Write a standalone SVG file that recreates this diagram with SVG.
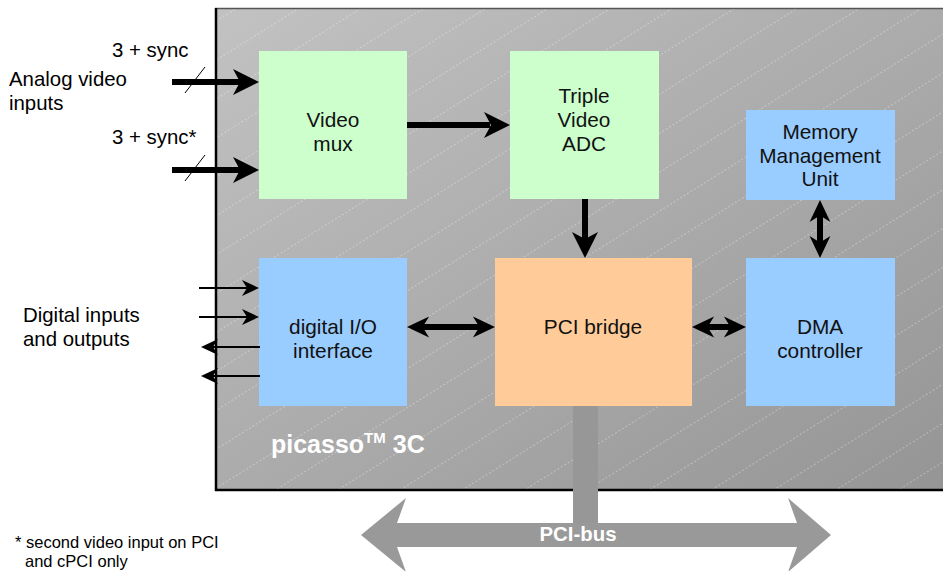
<svg xmlns="http://www.w3.org/2000/svg" width="943" height="571" viewBox="0 0 943 571">
  <style>
    .lbl { font-family: "Liberation Sans", Arial, sans-serif; font-size: 20.4px; fill: #000; }
    .box-text { font-family: "Liberation Sans", Arial, sans-serif; font-size: 20.8px; fill: #111; text-anchor: middle; }
    .note { font-family: "Liberation Sans", Arial, sans-serif; font-size: 16.5px; fill: #000; }
    .white-bold { font-family: "Liberation Sans", Arial, sans-serif; font-weight: bold; fill: #fff; }
    .green { fill: #ccffcc; }
    .blue { fill: #99ccff; }
    .orange { fill: #ffcc99; }
    .thick { stroke: #000; stroke-width: 6; fill: none; }
    .thin { stroke: #000; stroke-width: 2; fill: none; }
    .head { fill: #000; }
  </style>
  <defs>
    <linearGradient id="boardGrad" x1="0" y1="0" x2="1" y2="1">
      <stop offset="0" stop-color="#c2c2c2"/>
      <stop offset="1" stop-color="#959595"/>
    </linearGradient>
    <pattern id="hatch" patternUnits="userSpaceOnUse" width="12" height="33" patternTransform="rotate(-32)">
      <line x1="0" y1="0.5" x2="12" y2="0.5" stroke="#ffffff" stroke-opacity="0.4" stroke-width="0.8" stroke-dasharray="2 2"/>
    </pattern>
    <!-- arrowheads: barbed heads pointing right, tip at origin -->
    <path id="bigHead" d="M0,0 L-26,-13 L-19,0 L-26,13 Z"/>
    <path id="smallHead" d="M0,0 L-17,-8 L-12,0 L-17,8 Z"/>
  </defs>

  <!-- board -->
  <g id="board">
    <rect x="215" y="8" width="730" height="482" fill="url(#boardGrad)"/>
    <rect x="215" y="8" width="730" height="482" fill="url(#hatch)"/>
    <line x1="215" y1="8.5" x2="943" y2="8.5" stroke="#555" stroke-width="1.5"/>
    <line x1="216" y1="8" x2="216" y2="491" stroke="#000" stroke-width="2.5"/>
    <line x1="215" y1="490" x2="943" y2="490" stroke="#000" stroke-width="2.5"/>
    <text class="white-bold" x="271" y="453" font-size="25">picasso<tspan font-size="15" dy="-10">TM</tspan><tspan dy="10"> 3C</tspan></text>
  </g>

  <!-- PCI bus -->
  <g id="pci-bus">
    <rect x="573" y="406" width="25" height="120" fill="#979797"/>
    <path d="M361,535 L406,498 L397,523 L797,523 L788,498 L831,535 L788,572 L797,547 L397,547 L406,572 Z" fill="#999999"/>
    <text class="white-bold" x="578" y="541" font-size="20.4" text-anchor="middle">PCI-bus</text>
  </g>

  <!-- nodes -->
  <g id="video-mux">
    <rect class="green" x="259" y="51" width="148" height="148"/>
    <text class="box-text" x="333" y="127">Video</text>
    <text class="box-text" x="333" y="151">mux</text>
  </g>
  <g id="triple-video-adc">
    <rect class="green" x="510" y="51" width="149" height="148"/>
    <text class="box-text" x="584" y="103">Triple</text>
    <text class="box-text" x="584" y="127">Video</text>
    <text class="box-text" x="584" y="151">ADC</text>
  </g>
  <g id="memory-management-unit">
    <rect class="blue" x="746" y="110" width="149" height="90"/>
    <text class="box-text" x="820" y="139">Memory</text>
    <text class="box-text" x="820" y="163">Management</text>
    <text class="box-text" x="820" y="186">Unit</text>
  </g>
  <g id="digital-io-interface">
    <rect class="blue" x="259" y="258" width="148" height="148"/>
    <text class="box-text" x="333" y="334">digital I/O</text>
    <text class="box-text" x="333" y="358">interface</text>
  </g>
  <g id="pci-bridge">
    <rect class="orange" x="495" y="258" width="197" height="148"/>
    <text class="box-text" x="593" y="334">PCI bridge</text>
  </g>
  <g id="dma-controller">
    <rect class="blue" x="746" y="258" width="149" height="148"/>
    <text class="box-text" x="820" y="334">DMA</text>
    <text class="box-text" x="820" y="358">controller</text>
  </g>

  <!-- connectors -->
  <g id="connectors">
    <!-- analog inputs -->
    <line class="thick" x1="172" y1="82" x2="240" y2="82"/>
    <use href="#bigHead" class="head" transform="translate(259,82)"/>
    <line x1="185" y1="93" x2="205" y2="67" stroke="#000" stroke-width="1"/>
    <line class="thick" x1="172" y1="170" x2="240" y2="170"/>
    <use href="#bigHead" class="head" transform="translate(259,170)"/>
    <line x1="185" y1="181" x2="205" y2="155" stroke="#000" stroke-width="1"/>

    <!-- video mux to ADC -->
    <line class="thick" x1="407" y1="125" x2="490" y2="125"/>
    <use href="#bigHead" class="head" transform="translate(510,125)"/>

    <!-- ADC to PCI bridge -->
    <line class="thick" x1="585" y1="199" x2="585" y2="240"/>
    <use href="#bigHead" class="head" transform="translate(585,258) rotate(90)"/>

    <!-- MMU to DMA -->
    <line class="thick" x1="820" y1="215" x2="820" y2="243"/>
    <use href="#smallHead" class="head" transform="translate(820,200) rotate(-90) scale(1.3)"/>
    <use href="#smallHead" class="head" transform="translate(820,258) rotate(90) scale(1.3)"/>

    <!-- digital I/O to PCI bridge -->
    <line class="thick" x1="420" y1="327" x2="482" y2="327"/>
    <use href="#smallHead" class="head" transform="translate(407,327) rotate(180) scale(1.3)"/>
    <use href="#smallHead" class="head" transform="translate(495,327) scale(1.3)"/>

    <!-- PCI bridge to DMA -->
    <line class="thick" x1="705" y1="327" x2="733" y2="327"/>
    <use href="#smallHead" class="head" transform="translate(692,327) rotate(180) scale(1.3)"/>
    <use href="#smallHead" class="head" transform="translate(746,327) scale(1.3)"/>

    <!-- digital inputs -->
    <line class="thin" x1="199" y1="288" x2="250" y2="288"/>
    <use href="#smallHead" class="head" transform="translate(259,288)"/>
    <line class="thin" x1="199" y1="317" x2="250" y2="317"/>
    <use href="#smallHead" class="head" transform="translate(259,317)"/>

    <!-- digital outputs -->
    <line class="thin" x1="210" y1="347" x2="260" y2="347"/>
    <use href="#smallHead" class="head" transform="translate(201,347) rotate(180)"/>
    <line class="thin" x1="210" y1="376" x2="260" y2="376"/>
    <use href="#smallHead" class="head" transform="translate(201,376) rotate(180)"/>
  </g>

  <!-- external labels -->
  <g id="labels">
    <text class="lbl" x="112" y="57">3 + sync</text>
    <text class="lbl" x="9" y="86">Analog video</text>
    <text class="lbl" x="9" y="110">inputs</text>
    <text class="lbl" x="112" y="144">3 + sync*</text>
    <text class="lbl" x="23" y="322">Digital inputs</text>
    <text class="lbl" x="23" y="346">and outputs</text>
    <text class="note" x="15" y="548">* second video input on PCI</text>
    <text class="note" x="25" y="567">and cPCI only</text>
  </g>
</svg>
